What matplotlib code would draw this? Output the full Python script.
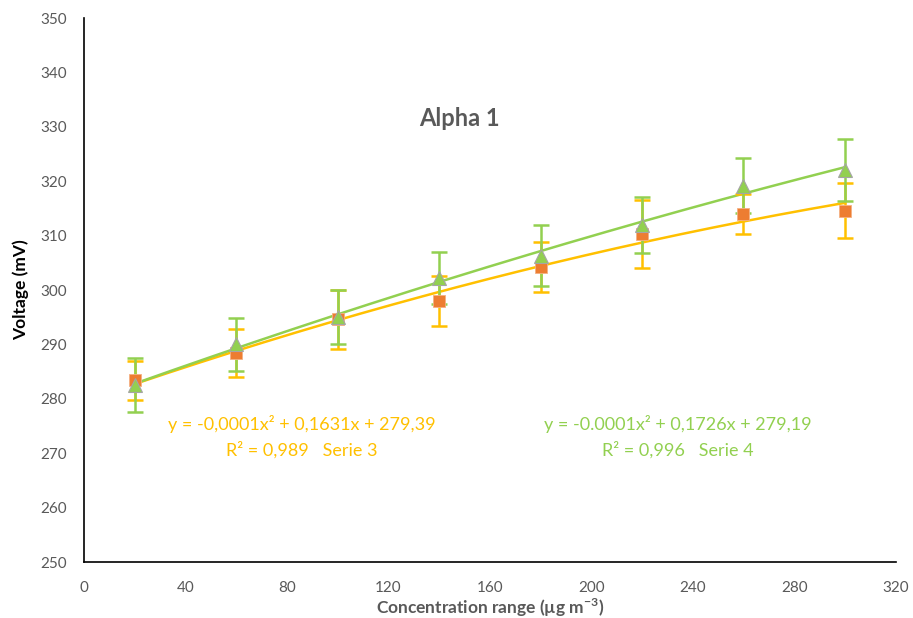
import numpy as np
import matplotlib.pyplot as plt

# valori
conc = [20, 60, 100, 140, 180, 220, 260, 300]
serie3 = [283.4, 288.4, 294.6, 298.0, 304.2, 310.3, 314.0, 314.6]
serie3_err = [3.6, 4.4, 5.5, 4.6, 4.6, 6.3, 3.7, 5.0]
serie4 = [282.5, 290.0, 295.0, 302.2, 306.3, 312.0, 319.2, 322.0]
serie4_err = [5.0, 4.8, 5.0, 4.8, 5.6, 5.2, 5.0, 5.7]

eq3 = 'y = -0,0001x² + 0,1631x + 279,39\nR² = 0,989   Serie 3'
eq4 = 'y = -0.0001x² + 0,1726x + 279,19\nR² = 0,996   Serie 4'

plt.rcParams['font.family'] = ['Lato', 'DejaVu Sans']

fig = plt.figure(figsize=(9.13, 6.18), dpi=100)
ax = fig.add_axes([0.092, 0.0906, 0.889, 0.880])

x = np.array(conc)
xx = np.linspace(x.min(), x.max(), 200)

# trendlines (polinomio di 2° grado)
p3 = np.polyfit(x, serie3, 2)
p4 = np.polyfit(x, serie4, 2)
ax.plot(xx, np.polyval(p3, xx), color='#FFC000', lw=1.8, zorder=2)
ax.plot(xx, np.polyval(p4, xx), color='#92D050', lw=1.8, zorder=2)

ax.errorbar(x, serie3, yerr=serie3_err, fmt='none', ecolor='#FFC000',
            elinewidth=1.8, capsize=6, capthick=1.8, zorder=3)
ax.errorbar(x, serie4, yerr=serie4_err, fmt='none', ecolor='#92D050',
            elinewidth=1.8, capsize=6, capthick=1.8, zorder=3)
ax.plot(x, serie3, 's', color='#ED7D31', ms=9, mec='#F4B183', mew=0.6,
        zorder=5)
ax.plot(x, serie4, '^', color='#92D050', ms=10, mec='#A5A5A5', mew=0.8,
        zorder=6)

ax.text(86, 273, eq3, color='#FFC000', fontsize=13, ha='center', va='center',
        linespacing=1.55)
ax.text(234, 273, eq4, color='#92D050', fontsize=13, ha='center', va='center',
        linespacing=1.55)
ax.text(148, 331.5, 'Alpha 1', color='#595959', fontsize=17, fontweight='bold',
        ha='center', va='center')

ax.set_xlim(0, 320)
ax.set_ylim(250, 350)
ax.set_xticks(np.arange(0, 321, 40))
ax.set_yticks(np.arange(250, 351, 10))
ax.tick_params(length=0, labelsize=11, labelcolor='#595959')
ax.tick_params(axis='x', pad=14)
ax.tick_params(axis='y', pad=12)
for s in ['top', 'right']:
    ax.spines[s].set_visible(False)
for s in ['left', 'bottom']:
    ax.spines[s].set_color('black')
    ax.spines[s].set_linewidth(1.2)

ax.set_xlabel('Concentration range (µg m$^{\\mathregular{-3}}$)', fontsize=12.5,
              fontweight='bold', color='#595959', labelpad=1)
ax.set_ylabel('Voltage (mV)', fontsize=12.5, fontweight='bold',
              color='#000000', labelpad=8)

fig.savefig('out.png', dpi=100)
